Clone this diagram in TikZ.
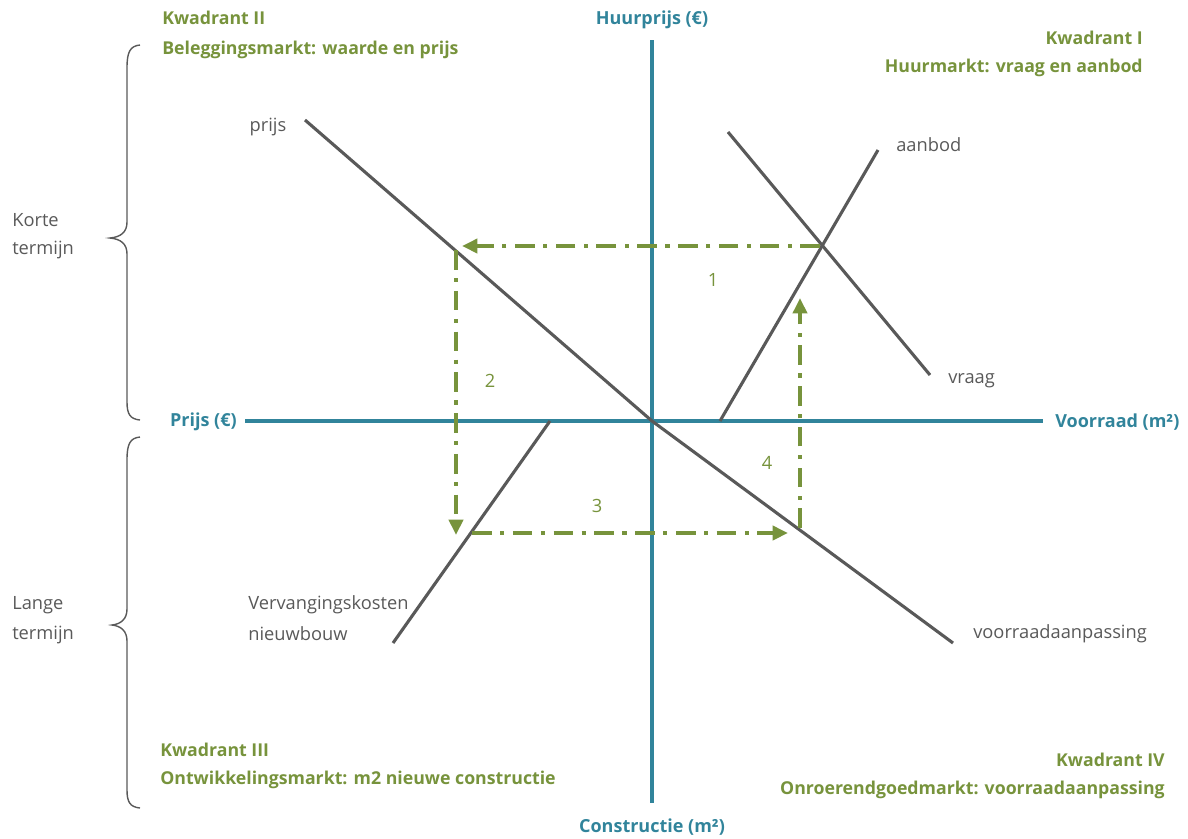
\documentclass[tikz,border=0pt]{standalone}
\usepackage{fontspec}
\setmainfont{Open Sans}
\usetikzlibrary{arrows.meta}
\definecolor{grn}{HTML}{77933C}
\definecolor{axcol}{HTML}{31849B}
\definecolor{lin}{HTML}{595959}
\tikzset{
  axisline/.style={axcol, line width=2.2pt},
  curveline/.style={lin, line width=2.2pt},
  flow/.style={grn, line width=2.8pt, dash pattern=on 14pt off 6pt on 3pt off 6pt, -{Triangle[length=11pt,width=10pt]}},
  bracel/.style={lin, line width=1pt},
  kw/.style={grn, font=\fontsize{12.6}{15}\selectfont\bfseries, inner sep=0pt},
  axl/.style={axcol, font=\fontsize{12.8}{15}\selectfont\bfseries, inner sep=0pt},
  lbl/.style={lin, font=\fontsize{13}{15}\selectfont, inner sep=0pt},
  num/.style={grn, font=\fontsize{13}{15}\selectfont, inner sep=0pt}
}
\begin{document}
\begin{tikzpicture}[x=0.025cm,y=-0.025cm]
\useasboundingbox (0,0) rectangle (1188,838);
% axes
\coordinate (vtop) at (652,40);
\coordinate (vbot) at (652,803);
\coordinate (hl) at (245,421);
\coordinate (hr) at (1043,421);
\coordinate (o) at (652,421);
\draw[axisline] (vtop) -- (vbot);
\draw[axisline] (hl) -- (hr);
% curves
\coordinate (p1) at (305,120);
\coordinate (p2) at (953,643);
\coordinate (a1) at (720,421);
\coordinate (a2) at (878,150);
\coordinate (v1) at (728,132);
\coordinate (v2) at (930,375);
\coordinate (c1) at (550,421);
\coordinate (c2) at (393,643);
\draw[curveline] (p1) -- (o) -- (p2);
\draw[curveline] (a1) -- (a2);
\draw[curveline] (v1) -- (v2);
\draw[curveline] (c1) -- (c2);
% flows
\coordinate (f1s) at (820,246);
\coordinate (f1e) at (462,246);
\coordinate (f2s) at (456,250);
\coordinate (f2e) at (456,535);
\coordinate (f3s) at (472,533);
\coordinate (f3e) at (788,533);
\coordinate (f4s) at (800,528);
\coordinate (f4e) at (800,298);
\draw[flow] (f1s) -- (f1e);
\draw[flow] (f2s) -- (f2e);
\draw[flow] (f3s) -- (f3e);
\draw[flow] (f4s) -- (f4e);
% numbers
\node[num] (n1) at (713,280) {1};
\node[num] (n2) at (490,381) {2};
\node[num] (n3) at (597,506) {3};
\node[num] (n4) at (767,463) {4};
% curve labels
\node[lbl] (lp) at (268,127) {prijs};
\node[lbl, anchor=west] (la) at (896,145) {aanbod};
\node[lbl, anchor=west] (lv) at (948,381) {vraag};
\node[lbl, anchor=west] (lvk) at (248,605) {Vervangingskosten};
\node[lbl, anchor=west] (lnb) at (248,634) {nieuwbouw};
\node[lbl, anchor=west] (lva) at (973,634) {voorraadaanpassing};
% axis labels
\node[axl] (ah) at (652,20) {Huurprijs (€)};
\node[axl] (ac) at (652,827) {Constructie (m²)};
\node[axl, anchor=east] (ap) at (237,422) {Prijs (€)};
\node[axl, anchor=west] (avr) at (1055,422) {Voorraad (m²)};
% quadrant titles
\node[kw, anchor=west] (k2a) at (162,18) {Kwadrant II};
\node[kw, anchor=west] (k2b) at (162,50) {Beleggingsmarkt: waarde en prijs};
\node[kw, anchor=east] (k1a) at (1143,38) {Kwadrant I};
\node[kw, anchor=east] (k1b) at (1143,68) {Huurmarkt: vraag en aanbod};
\node[kw, anchor=west] (k3a) at (160,750) {Kwadrant III};
\node[kw, anchor=west] (k3b) at (160,780) {Ontwikkelingsmarkt: m2 nieuwe constructie};
\node[kw, anchor=east] (k4a) at (1165,760) {Kwadrant IV};
\node[kw, anchor=east] (k4b) at (1165,790) {Onroerendgoedmarkt: voorraadaanpassing};
% terms
\node[lbl, anchor=west] (kt1) at (12,220) {Korte};
\node[lbl, anchor=west] (kt2) at (12,250) {termijn};
\node[lbl, anchor=west] (lt1) at (12,605) {Lange};
\node[lbl, anchor=west] (lt2) at (12,635) {termijn};
% braces
\draw[bracel] (140,45) .. controls (130,46) and (127,52) .. (127,68) -- (127,222) .. controls (127,232) and (121,237) .. (110,238) .. controls (121,239) and (127,244) .. (127,254) -- (127,402) .. controls (127,414) and (130,419) .. (140,420);
\draw[bracel] (140,437) .. controls (130,438) and (127,444) .. (127,460) -- (127,609) .. controls (127,619) and (121,624) .. (112,625) .. controls (121,626) and (127,631) .. (127,641) -- (127,790) .. controls (127,802) and (130,807) .. (140,808);
\end{tikzpicture}
\end{document}
